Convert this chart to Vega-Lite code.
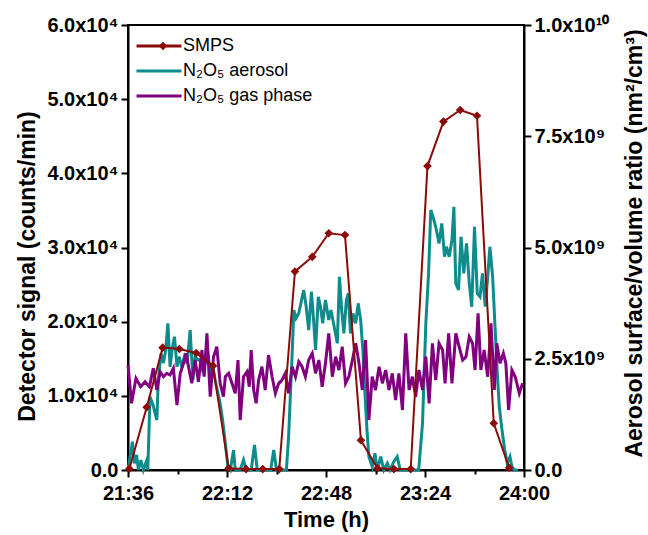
{
  "$schema": "https://vega.github.io/schema/vega-lite/v6.json",
  "width": 396,
  "height": 445,
  "autosize": {"type": "none"},
  "padding": {"left": 128, "top": 25, "right": 124, "bottom": 65},
  "background": "white",
  "config": {
    "font": "Liberation Sans",
    "view": {"stroke": "black", "strokeWidth": 2},
    "axis": {
      "domainColor": "black", "domainWidth": 2, "tickColor": "black", "tickWidth": 2, "tickSize": 7,
      "labelFont": "Liberation Sans", "labelFontWeight": "bold", "labelFontSize": 20, "labelColor": "black",
      "titleFont": "Liberation Sans", "titleFontWeight": "bold", "titleFontSize": 22, "titleColor": "black",
      "titleLimit": 1000, "grid": false
    },
    "legend": {"labelFont": "Liberation Sans", "labelFontSize": 18, "labelColor": "black"}
  },
  "datasets": {
    "sig": [
      {"t":1296,"v":0,"k":"N₂O₅ aerosol"},{"t":1297.6,"v":3815,"k":"N₂O₅ aerosol"},{"t":1298.3,"v":903,"k":"N₂O₅ aerosol"},{"t":1299.1,"v":2022,"k":"N₂O₅ aerosol"},{"t":1299.8,"v":0,"k":"N₂O₅ aerosol"},{"t":1300.7,"v":1348,"k":"N₂O₅ aerosol"},{"t":1301.6,"v":0,"k":"N₂O₅ aerosol"},{"t":1302.6,"v":1078,"k":"N₂O₅ aerosol"},{"t":1303.2,"v":0,"k":"N₂O₅ aerosol"},{"t":1304.0,"v":9881,"k":"N₂O₅ aerosol"},{"t":1305.1,"v":8762,"k":"N₂O₅ aerosol"},{"t":1306.5,"v":6740,"k":"N₂O₅ aerosol"},{"t":1307.0,"v":12132,"k":"N₂O₅ aerosol"},{"t":1308.0,"v":15731,"k":"N₂O₅ aerosol"},{"t":1308.9,"v":14424,"k":"N₂O₅ aerosol"},{"t":1309.7,"v":16176,"k":"N₂O₅ aerosol"},{"t":1310.5,"v":19775,"k":"N₂O₅ aerosol"},{"t":1311.3,"v":13925,"k":"N₂O₅ aerosol"},{"t":1312.2,"v":16621,"k":"N₂O₅ aerosol"},{"t":1312.9,"v":17969,"k":"N₂O₅ aerosol"},{"t":1313.8,"v":13925,"k":"N₂O₅ aerosol"},{"t":1314.6,"v":15273,"k":"N₂O₅ aerosol"},{"t":1315.6,"v":13925,"k":"N₂O₅ aerosol"},{"t":1316.5,"v":15273,"k":"N₂O₅ aerosol"},{"t":1317.5,"v":14383,"k":"N₂O₅ aerosol"},{"t":1318.6,"v":18872,"k":"N₂O₅ aerosol"},{"t":1319.6,"v":12132,"k":"N₂O₅ aerosol"},{"t":1320.4,"v":15273,"k":"N₂O₅ aerosol"},{"t":1321.4,"v":14828,"k":"N₂O₅ aerosol"},{"t":1322.2,"v":14828,"k":"N₂O₅ aerosol"},{"t":1323.1,"v":13480,"k":"N₂O₅ aerosol"},{"t":1324.1,"v":14383,"k":"N₂O₅ aerosol"},{"t":1325.1,"v":15731,"k":"N₂O₅ aerosol"},{"t":1325.9,"v":13035,"k":"N₂O₅ aerosol"},{"t":1326.7,"v":14383,"k":"N₂O₅ aerosol"},{"t":1327.7,"v":12132,"k":"N₂O₅ aerosol"},{"t":1328.7,"v":10339,"k":"N₂O₅ aerosol"},{"t":1329.5,"v":8991,"k":"N₂O₅ aerosol"},{"t":1330.4,"v":6740,"k":"N₂O₅ aerosol"},{"t":1331.4,"v":3599,"k":"N₂O₅ aerosol"},{"t":1332.3,"v":445,"k":"N₂O₅ aerosol"},{"t":1333.2,"v":0,"k":"N₂O₅ aerosol"},{"t":1334.4,"v":2696,"k":"N₂O₅ aerosol"},{"t":1335.0,"v":0,"k":"N₂O₅ aerosol"},{"t":1336.8,"v":0,"k":"N₂O₅ aerosol"},{"t":1338.0,"v":1348,"k":"N₂O₅ aerosol"},{"t":1339.0,"v":0,"k":"N₂O₅ aerosol"},{"t":1340.8,"v":0,"k":"N₂O₅ aerosol"},{"t":1342.0,"v":3370,"k":"N₂O₅ aerosol"},{"t":1343.0,"v":0,"k":"N₂O₅ aerosol"},{"t":1347.9,"v":0,"k":"N₂O₅ aerosol"},{"t":1349.0,"v":2696,"k":"N₂O₅ aerosol"},{"t":1350.0,"v":0,"k":"N₂O₅ aerosol"},{"t":1353.6,"v":0,"k":"N₂O₅ aerosol"},{"t":1354.4,"v":4489,"k":"N₂O₅ aerosol"},{"t":1355.7,"v":15731,"k":"N₂O₅ aerosol"},{"t":1356.3,"v":21568,"k":"N₂O₅ aerosol"},{"t":1357.1,"v":20449,"k":"N₂O₅ aerosol"},{"t":1358.1,"v":21123,"k":"N₂O₅ aerosol"},{"t":1359.1,"v":22916,"k":"N₂O₅ aerosol"},{"t":1359.9,"v":24264,"k":"N₂O₅ aerosol"},{"t":1360.8,"v":22013,"k":"N₂O₅ aerosol"},{"t":1361.7,"v":18872,"k":"N₂O₅ aerosol"},{"t":1362.7,"v":24035,"k":"N₂O₅ aerosol"},{"t":1363.4,"v":20665,"k":"N₂O₅ aerosol"},{"t":1364.2,"v":16176,"k":"N₂O₅ aerosol"},{"t":1365.2,"v":23361,"k":"N₂O₅ aerosol"},{"t":1366.0,"v":22013,"k":"N₂O₅ aerosol"},{"t":1366.8,"v":19775,"k":"N₂O₅ aerosol"},{"t":1367.8,"v":22916,"k":"N₂O₅ aerosol"},{"t":1369.0,"v":20220,"k":"N₂O₅ aerosol"},{"t":1369.8,"v":21568,"k":"N₂O₅ aerosol"},{"t":1370.5,"v":20220,"k":"N₂O₅ aerosol"},{"t":1371.2,"v":18872,"k":"N₂O₅ aerosol"},{"t":1372.1,"v":17079,"k":"N₂O₅ aerosol"},{"t":1372.9,"v":26057,"k":"N₂O₅ aerosol"},{"t":1373.7,"v":21568,"k":"N₂O₅ aerosol"},{"t":1374.5,"v":18427,"k":"N₂O₅ aerosol"},{"t":1375.4,"v":22916,"k":"N₂O₅ aerosol"},{"t":1376.1,"v":23819,"k":"N₂O₅ aerosol"},{"t":1376.9,"v":18427,"k":"N₂O₅ aerosol"},{"t":1377.8,"v":21123,"k":"N₂O₅ aerosol"},{"t":1378.8,"v":19775,"k":"N₂O₅ aerosol"},{"t":1379.7,"v":22471,"k":"N₂O₅ aerosol"},{"t":1380.6,"v":20220,"k":"N₂O₅ aerosol"},{"t":1381.4,"v":16176,"k":"N₂O₅ aerosol"},{"t":1382.1,"v":10784,"k":"N₂O₅ aerosol"},{"t":1382.9,"v":5392,"k":"N₂O₅ aerosol"},{"t":1383.6,"v":1793,"k":"N₂O₅ aerosol"},{"t":1384.8,"v":445,"k":"N₂O₅ aerosol"},{"t":1385.8,"v":2251,"k":"N₂O₅ aerosol"},{"t":1386.6,"v":0,"k":"N₂O₅ aerosol"},{"t":1387.9,"v":1793,"k":"N₂O₅ aerosol"},{"t":1389.0,"v":0,"k":"N₂O₅ aerosol"},{"t":1390.3,"v":903,"k":"N₂O₅ aerosol"},{"t":1391.3,"v":0,"k":"N₂O₅ aerosol"},{"t":1392.6,"v":1078,"k":"N₂O₅ aerosol"},{"t":1393.9,"v":1793,"k":"N₂O₅ aerosol"},{"t":1395.0,"v":0,"k":"N₂O₅ aerosol"},{"t":1401.7,"v":0,"k":"N₂O₅ aerosol"},{"t":1403.1,"v":6295,"k":"N₂O₅ aerosol"},{"t":1404.3,"v":19775,"k":"N₂O₅ aerosol"},{"t":1405.3,"v":26515,"k":"N₂O₅ aerosol"},{"t":1406.1,"v":35048,"k":"N₂O₅ aerosol"},{"t":1406.9,"v":34145,"k":"N₂O₅ aerosol"},{"t":1407.9,"v":32797,"k":"N₂O₅ aerosol"},{"t":1409.1,"v":30559,"k":"N₂O₅ aerosol"},{"t":1410.1,"v":33255,"k":"N₂O₅ aerosol"},{"t":1411.1,"v":28753,"k":"N₂O₅ aerosol"},{"t":1411.8,"v":30101,"k":"N₂O₅ aerosol"},{"t":1412.8,"v":28753,"k":"N₂O₅ aerosol"},{"t":1413.8,"v":31004,"k":"N₂O₅ aerosol"},{"t":1414.5,"v":35493,"k":"N₂O₅ aerosol"},{"t":1415.2,"v":25167,"k":"N₂O₅ aerosol"},{"t":1416.2,"v":24264,"k":"N₂O₅ aerosol"},{"t":1417.1,"v":31449,"k":"N₂O₅ aerosol"},{"t":1418.1,"v":26515,"k":"N₂O₅ aerosol"},{"t":1419.1,"v":30559,"k":"N₂O₅ aerosol"},{"t":1420.1,"v":25167,"k":"N₂O₅ aerosol"},{"t":1421.0,"v":22013,"k":"N₂O₅ aerosol"},{"t":1422.0,"v":32797,"k":"N₂O₅ aerosol"},{"t":1423.0,"v":23819,"k":"N₂O₅ aerosol"},{"t":1424.0,"v":23361,"k":"N₂O₅ aerosol"},{"t":1424.9,"v":26515,"k":"N₂O₅ aerosol"},{"t":1425.9,"v":22013,"k":"N₂O₅ aerosol"},{"t":1426.9,"v":26515,"k":"N₂O₅ aerosol"},{"t":1427.6,"v":30101,"k":"N₂O₅ aerosol"},{"t":1428.6,"v":26057,"k":"N₂O₅ aerosol"},{"t":1429.4,"v":19775,"k":"N₂O₅ aerosol"},{"t":1430.3,"v":13035,"k":"N₂O₅ aerosol"},{"t":1431.0,"v":8533,"k":"N₂O₅ aerosol"},{"t":1432.0,"v":5392,"k":"N₂O₅ aerosol"},{"t":1433.0,"v":2696,"k":"N₂O₅ aerosol"},{"t":1433.9,"v":903,"k":"N₂O₅ aerosol"},{"t":1434.9,"v":1793,"k":"N₂O₅ aerosol"},{"t":1435.6,"v":445,"k":"N₂O₅ aerosol"},{"t":1436.5,"v":0,"k":"N₂O₅ aerosol"},{"t":1437.8,"v":0,"k":"N₂O₅ aerosol"},
      {"t":1296,"v":14154,"k":"N₂O₅ gas phase"},{"t":1297.3,"v":8991,"k":"N₂O₅ gas phase"},{"t":1298.9,"v":12361,"k":"N₂O₅ gas phase"},{"t":1300.6,"v":11229,"k":"N₂O₅ gas phase"},{"t":1302.2,"v":11903,"k":"N₂O₅ gas phase"},{"t":1303.8,"v":11229,"k":"N₂O₅ gas phase"},{"t":1305.2,"v":13709,"k":"N₂O₅ gas phase"},{"t":1306.5,"v":10784,"k":"N₂O₅ gas phase"},{"t":1307.7,"v":13251,"k":"N₂O₅ gas phase"},{"t":1308.9,"v":12577,"k":"N₂O₅ gas phase"},{"t":1310.1,"v":13035,"k":"N₂O₅ gas phase"},{"t":1311.3,"v":12806,"k":"N₂O₅ gas phase"},{"t":1312.5,"v":13709,"k":"N₂O₅ gas phase"},{"t":1313.8,"v":8762,"k":"N₂O₅ gas phase"},{"t":1315.0,"v":13035,"k":"N₂O₅ gas phase"},{"t":1316.2,"v":14383,"k":"N₂O₅ gas phase"},{"t":1317.1,"v":15731,"k":"N₂O₅ gas phase"},{"t":1318.0,"v":13925,"k":"N₂O₅ gas phase"},{"t":1319.2,"v":11687,"k":"N₂O₅ gas phase"},{"t":1320.4,"v":14828,"k":"N₂O₅ gas phase"},{"t":1321.6,"v":11903,"k":"N₂O₅ gas phase"},{"t":1322.9,"v":16176,"k":"N₂O₅ gas phase"},{"t":1323.7,"v":12577,"k":"N₂O₅ gas phase"},{"t":1324.7,"v":18427,"k":"N₂O₅ gas phase"},{"t":1325.9,"v":9881,"k":"N₂O₅ gas phase"},{"t":1327.1,"v":15273,"k":"N₂O₅ gas phase"},{"t":1328.3,"v":16621,"k":"N₂O₅ gas phase"},{"t":1329.5,"v":11687,"k":"N₂O₅ gas phase"},{"t":1330.7,"v":9881,"k":"N₂O₅ gas phase"},{"t":1331.4,"v":12577,"k":"N₂O₅ gas phase"},{"t":1332.6,"v":13035,"k":"N₂O₅ gas phase"},{"t":1333.8,"v":11687,"k":"N₂O₅ gas phase"},{"t":1335.0,"v":10339,"k":"N₂O₅ gas phase"},{"t":1336.0,"v":14828,"k":"N₂O₅ gas phase"},{"t":1336.8,"v":6740,"k":"N₂O₅ gas phase"},{"t":1338.0,"v":12577,"k":"N₂O₅ gas phase"},{"t":1339.3,"v":13251,"k":"N₂O₅ gas phase"},{"t":1340.1,"v":11229,"k":"N₂O₅ gas phase"},{"t":1340.8,"v":16176,"k":"N₂O₅ gas phase"},{"t":1341.7,"v":10784,"k":"N₂O₅ gas phase"},{"t":1342.6,"v":8991,"k":"N₂O₅ gas phase"},{"t":1343.5,"v":12132,"k":"N₂O₅ gas phase"},{"t":1344.7,"v":13925,"k":"N₂O₅ gas phase"},{"t":1345.9,"v":10784,"k":"N₂O₅ gas phase"},{"t":1347.1,"v":15502,"k":"N₂O₅ gas phase"},{"t":1348.4,"v":12577,"k":"N₂O₅ gas phase"},{"t":1349.6,"v":10339,"k":"N₂O₅ gas phase"},{"t":1350.8,"v":11687,"k":"N₂O₅ gas phase"},{"t":1352.0,"v":12132,"k":"N₂O₅ gas phase"},{"t":1353.2,"v":13035,"k":"N₂O₅ gas phase"},{"t":1354.4,"v":10339,"k":"N₂O₅ gas phase"},{"t":1355.7,"v":13925,"k":"N₂O₅ gas phase"},{"t":1356.9,"v":12577,"k":"N₂O₅ gas phase"},{"t":1358.1,"v":14599,"k":"N₂O₅ gas phase"},{"t":1359.3,"v":13925,"k":"N₂O₅ gas phase"},{"t":1360.5,"v":12577,"k":"N₂O₅ gas phase"},{"t":1361.7,"v":14828,"k":"N₂O₅ gas phase"},{"t":1363.0,"v":15731,"k":"N₂O₅ gas phase"},{"t":1364.2,"v":13035,"k":"N₂O₅ gas phase"},{"t":1365.4,"v":14828,"k":"N₂O₅ gas phase"},{"t":1366.6,"v":11229,"k":"N₂O₅ gas phase"},{"t":1367.8,"v":14383,"k":"N₂O₅ gas phase"},{"t":1369.0,"v":18427,"k":"N₂O₅ gas phase"},{"t":1370.3,"v":12577,"k":"N₂O₅ gas phase"},{"t":1371.5,"v":15273,"k":"N₂O₅ gas phase"},{"t":1372.7,"v":13480,"k":"N₂O₅ gas phase"},{"t":1373.9,"v":16621,"k":"N₂O₅ gas phase"},{"t":1375.1,"v":11687,"k":"N₂O₅ gas phase"},{"t":1376.3,"v":12577,"k":"N₂O₅ gas phase"},{"t":1377.6,"v":14828,"k":"N₂O₅ gas phase"},{"t":1378.8,"v":17079,"k":"N₂O₅ gas phase"},{"t":1380.0,"v":14383,"k":"N₂O₅ gas phase"},{"t":1381.2,"v":10784,"k":"N₂O₅ gas phase"},{"t":1382.4,"v":17524,"k":"N₂O₅ gas phase"},{"t":1383.6,"v":6740,"k":"N₂O₅ gas phase"},{"t":1384.8,"v":12577,"k":"N₂O₅ gas phase"},{"t":1386.0,"v":10784,"k":"N₂O₅ gas phase"},{"t":1387.3,"v":13925,"k":"N₂O₅ gas phase"},{"t":1388.5,"v":11687,"k":"N₂O₅ gas phase"},{"t":1389.7,"v":13480,"k":"N₂O₅ gas phase"},{"t":1390.9,"v":10784,"k":"N₂O₅ gas phase"},{"t":1392.1,"v":13035,"k":"N₂O₅ gas phase"},{"t":1393.3,"v":9436,"k":"N₂O₅ gas phase"},{"t":1394.5,"v":13035,"k":"N₂O₅ gas phase"},{"t":1395.8,"v":8088,"k":"N₂O₅ gas phase"},{"t":1397.0,"v":18427,"k":"N₂O₅ gas phase"},{"t":1398.2,"v":10784,"k":"N₂O₅ gas phase"},{"t":1399.4,"v":12577,"k":"N₂O₅ gas phase"},{"t":1400.6,"v":9881,"k":"N₂O₅ gas phase"},{"t":1401.8,"v":13480,"k":"N₂O₅ gas phase"},{"t":1403.1,"v":10784,"k":"N₂O₅ gas phase"},{"t":1404.3,"v":15273,"k":"N₂O₅ gas phase"},{"t":1405.5,"v":8991,"k":"N₂O₅ gas phase"},{"t":1406.7,"v":17079,"k":"N₂O₅ gas phase"},{"t":1407.9,"v":12132,"k":"N₂O₅ gas phase"},{"t":1409.1,"v":17079,"k":"N₂O₅ gas phase"},{"t":1410.4,"v":16176,"k":"N₂O₅ gas phase"},{"t":1411.3,"v":11687,"k":"N₂O₅ gas phase"},{"t":1412.6,"v":18427,"k":"N₂O₅ gas phase"},{"t":1413.8,"v":11687,"k":"N₂O₅ gas phase"},{"t":1415.2,"v":18427,"k":"N₂O₅ gas phase"},{"t":1416.4,"v":16621,"k":"N₂O₅ gas phase"},{"t":1417.7,"v":14828,"k":"N₂O₅ gas phase"},{"t":1418.9,"v":15273,"k":"N₂O₅ gas phase"},{"t":1420.1,"v":17969,"k":"N₂O₅ gas phase"},{"t":1421.3,"v":17079,"k":"N₂O₅ gas phase"},{"t":1422.2,"v":13480,"k":"N₂O₅ gas phase"},{"t":1423.3,"v":21123,"k":"N₂O₅ gas phase"},{"t":1424.3,"v":13480,"k":"N₂O₅ gas phase"},{"t":1425.5,"v":16176,"k":"N₂O₅ gas phase"},{"t":1426.8,"v":12577,"k":"N₂O₅ gas phase"},{"t":1428.0,"v":19775,"k":"N₂O₅ gas phase"},{"t":1429.2,"v":10784,"k":"N₂O₅ gas phase"},{"t":1430.1,"v":17079,"k":"N₂O₅ gas phase"},{"t":1431.3,"v":14383,"k":"N₂O₅ gas phase"},{"t":1432.5,"v":15731,"k":"N₂O₅ gas phase"},{"t":1433.4,"v":14383,"k":"N₂O₅ gas phase"},{"t":1434.4,"v":8088,"k":"N₂O₅ gas phase"},{"t":1435.6,"v":13480,"k":"N₂O₅ gas phase"},{"t":1436.8,"v":12577,"k":"N₂O₅ gas phase"},{"t":1438.3,"v":10339,"k":"N₂O₅ gas phase"},{"t":1439.5,"v":11687,"k":"N₂O₅ gas phase"}
    ],
    "smps": [
      {"t":1296.5,"s":30000000,"k":"SMPS","m":"SMPS"},{"t":1302.8,"s":1410000000,"k":"SMPS","m":"SMPS"},{"t":1308.6,"s":2750000000,"k":"SMPS","m":"SMPS"},{"t":1314.7,"s":2720000000,"k":"SMPS","m":"SMPS"},{"t":1320.8,"s":2630000000,"k":"SMPS","m":"SMPS"},{"t":1326.9,"s":2340000000,"k":"SMPS","m":"SMPS"},{"t":1332.6,"s":40000000,"k":"SMPS","m":"SMPS"},{"t":1338.9,"s":20000000,"k":"SMPS","m":"SMPS"},{"t":1345.0,"s":20000000,"k":"SMPS","m":"SMPS"},{"t":1351.0,"s":20000000,"k":"SMPS","m":"SMPS"},{"t":1356.7,"s":4460000000,"k":"SMPS","m":"SMPS"},{"t":1363.0,"s":4790000000,"k":"SMPS","m":"SMPS"},{"t":1369.0,"s":5320000000,"k":"SMPS","m":"SMPS"},{"t":1374.9,"s":5280000000,"k":"SMPS","m":"SMPS"},{"t":1380.7,"s":670000000,"k":"SMPS","m":"SMPS"},{"t":1386.7,"s":40000000,"k":"SMPS","m":"SMPS"},{"t":1392.7,"s":20000000,"k":"SMPS","m":"SMPS"},{"t":1398.8,"s":20000000,"k":"SMPS","m":"SMPS"},{"t":1404.9,"s":6830000000,"k":"SMPS","m":"SMPS"},{"t":1410.7,"s":7830000000,"k":"SMPS","m":"SMPS"},{"t":1416.8,"s":8090000000,"k":"SMPS","m":"SMPS"},{"t":1422.9,"s":7960000000,"k":"SMPS","m":"SMPS"},{"t":1429.0,"s":1050000000,"k":"SMPS","m":"SMPS"},{"t":1434.6,"s":50000000,"k":"SMPS","m":"SMPS"}
    ]
  },
  "resolve": {"scale": {"y": "independent"}, "axis": {"x": "independent"}},
  "layer": [
    {
      "data": {"name": "sig"},
      "mark": {"type": "line", "strokeWidth": 3},
      "encoding": {
        "x": {
          "field": "t", "type": "quantitative",
          "scale": {"domain": [1296, 1440], "nice": false, "zero": false},
          "axis": {
            "values": [1296, 1332, 1368, 1404, 1440],
            "labelExpr": "floor(datum.value/60) + ':' + (datum.value % 60 < 10 ? '0' : '') + (datum.value % 60)",
            "title": "Time (h)", "labelPadding": 6, "titlePadding": 6, "labelFlush": false
          }
        },
        "y": {
          "field": "v", "type": "quantitative",
          "scale": {"domain": [0, 60000], "nice": false},
          "axis": {
            "orient": "left",
            "values": [0, 10000, 20000, 30000, 40000, 50000, 60000],
            "labelExpr": "datum.value == 0 ? '0.0' : format(datum.value/10000, '.1f') + 'x10⁴'",
            "title": "Detector signal (counts/min)", "labelPadding": 3,
            "titleFontSize": 23, "titleX": -101, "titleY": 241, "titleAlign": "center", "titleBaseline": "middle", "titleAngle": 270
          }
        },
        "color": {
          "field": "k", "type": "nominal",
          "scale": {"domain": ["SMPS", "N₂O₅ aerosol", "N₂O₅ gas phase"], "range": ["#8B0A0A", "#0E8C8C", "#800080"]},
          "legend": {
            "orient": "none", "legendX": 7, "legendY": 12, "title": null,
            "symbolType": "stroke", "symbolSize": 2025, "symbolStrokeWidth": 3,
            "clipHeight": 18, "rowPadding": 7, "labelOffset": 0, "padding": 0, "labelFontSize": 18
          }
        }
      }
    },
    {
      "data": {"name": "smps"},
      "encoding": {
        "x": {
          "field": "t", "type": "quantitative",
          "axis": {"orient": "bottom", "values": [1314, 1350, 1386, 1422], "labels": false, "domain": false, "tickSize": 4, "title": null}
        },
        "y": {
          "field": "s", "type": "quantitative",
          "scale": {"domain": [0, 10000000000], "nice": false},
          "axis": {
            "orient": "right",
            "values": [0, 2500000000, 5000000000, 7500000000, 10000000000],
            "labelExpr": "datum.value == 0 ? '0.0' : (datum.value >= 9999999999 ? '1.0x10¹⁰' : format(datum.value/1000000000, '.1f') + 'x10⁹')",
            "title": "Aerosol surface/volume ratio (nm²/cm³)", "labelPadding": 3,
            "titleFontSize": 23, "titleX": 110, "titleY": 218, "titleAlign": "center", "titleBaseline": "middle", "titleAngle": 270
          }
        }
      },
      "layer": [
        {
          "mark": {"type": "line", "strokeWidth": 2},
          "encoding": {"color": {"field": "k", "type": "nominal"}}
        },
        {
          "mark": {"type": "point", "filled": true, "size": 75, "color": "#8B0A0A", "opacity": 1},
          "encoding": {
            "shape": {
              "field": "m", "type": "nominal",
              "scale": {"domain": ["SMPS"], "range": ["diamond"]},
              "legend": {
                "orient": "none", "legendX": 26, "legendY": 12, "title": null,
                "clipHeight": 18, "padding": 0, "labelExpr": "''", "symbolSize": 75,
                "symbolFillColor": "#8B0A0A", "symbolStrokeColor": "#8B0A0A", "symbolType": "diamond"
              }
            }
          }
        }
      ]
    }
  ]
}
